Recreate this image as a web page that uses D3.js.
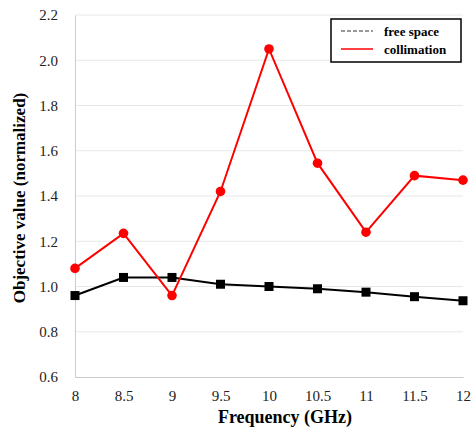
<!DOCTYPE html>
<html>
<head>
<meta charset="utf-8">
<script src="https://cdn.jsdelivr.net/npm/d3@7"></script>
<style>
  body { margin:0; background:#fff; overflow:hidden; }
  svg { display:block; }
</style>
</head>
<body>
<div id="chart"></div>
<script>
let freqs = [8, 8.5, 9, 9.5, 10, 10.5, 11, 11.5, 12];
let freeSpace = [0.96, 1.04, 1.04, 1.01, 1.0, 0.99, 0.975, 0.955, 0.937];
let collimation = [1.08, 1.235, 0.96, 1.42, 2.05, 1.545, 1.24, 1.49, 1.47];
let yTicks = [0.6, 0.8, 1.0, 1.2, 1.4, 1.6, 1.8, 2.0, 2.2];
let xTicks = [8, 8.5, 9, 9.5, 10, 10.5, 11, 11.5, 12];

let font = "Liberation Serif"

let width = 475, height = 427,
    margin = { top:15, right:12, left:75, bottom:50 },
    innerWidth = width - margin.left - margin.right,
    innerHeight = height - margin.top - margin.bottom;

let svg = d3.select("#chart").append("svg").attr("width",width).attr("height",height)
let g = svg.append("g").attr("transform",`translate(${margin.left},${margin.top})`)

let xScale = d3.scaleLinear().domain([8,12]).range([0,innerWidth]);
let yScale = d3.scaleLinear().domain([0.6,2.2]).range([innerHeight,0]);

// grid
g.selectAll(".grid").data(yTicks.slice(1)).enter().append("line")
  .attr("x1",0).attr("x2",innerWidth)
  .attr("y1",d=>yScale(d)).attr("y2",d=>yScale(d))
  .attr("stroke","#e8e8e8").attr("stroke-width",1)

let yAxis = d3.axisLeft(yScale).tickValues(yTicks).tickFormat(d3.format(".1f")).tickSize(0).tickPadding(17)
let xAxis = d3.axisBottom(xScale).tickValues(xTicks).tickFormat(d=>d).tickSize(0).tickPadding(13)

let yGroup = g.append("g").call(yAxis).attr("font-family",font)
yGroup.select(".domain").attr("stroke","#cccccc")
yGroup.selectAll("text").attr("font-size",15).attr("fill","#222").style("font-family",font)

let xGroup = g.append("g").attr("transform",`translate(0,${innerHeight})`).call(xAxis).attr("font-family",font)
xGroup.select(".domain").attr("stroke","#cccccc")
xGroup.selectAll("text").attr("font-size",15).attr("fill","#222").style("font-family",font)

let line = d3.line().x((d,i)=>xScale(freqs[i])).y(d=>yScale(d))

g.append("path").attr("d",line(freeSpace)).attr("fill","none").attr("stroke","#000").attr("stroke-width",2)
g.selectAll(".sq").data(freeSpace).enter().append("rect")
  .attr("x",(d,i)=>xScale(freqs[i])-4.5).attr("y",d=>yScale(d)-4.5)
  .attr("width",9).attr("height",9).attr("fill","#000")

g.append("path").attr("d",line(collimation)).attr("fill","none").attr("stroke","#f00").attr("stroke-width",2)
g.selectAll(".dot").data(collimation).enter().append("circle")
  .attr("cx",(d,i)=>xScale(freqs[i])).attr("cy",d=>yScale(d))
  .attr("r",4.8).attr("fill","#f00")

// legend
let lg = svg.append("g").attr("transform","translate(331,19)")
lg.append("rect").attr("width",130).attr("height",43).attr("fill","#fff").attr("stroke","#000").attr("stroke-width",1.5)
lg.append("line").attr("x1",10).attr("x2",42).attr("y1",12).attr("y2",12).attr("stroke","#333").attr("stroke-dasharray","4,2").attr("stroke-width",1.2)
lg.append("line").attr("x1",10).attr("x2",42).attr("y1",30).attr("y2",30).attr("stroke","#f00").attr("stroke-width",1.5)
lg.append("text").attr("x",53).attr("y",17).text("free space").attr("font-size",13).attr("font-weight","bold").style("font-family",font)
lg.append("text").attr("x",53).attr("y",35).text("collimation").attr("font-size",13).attr("font-weight","bold").style("font-family",font)

svg.append("text").attr("x",285).attr("y",423).text("Frequency (GHz)").style("font-family",font)
  .attr("text-anchor","middle").attr("font-size",18).attr("font-weight","bold")
svg.append("text").attr("transform",`translate(25,198) rotate(-90)`).text("Objective value (normalized)").style("font-family",font)
  .attr("text-anchor","middle").attr("font-size",17).attr("font-weight","bold")
</script>
</body>
</html>
